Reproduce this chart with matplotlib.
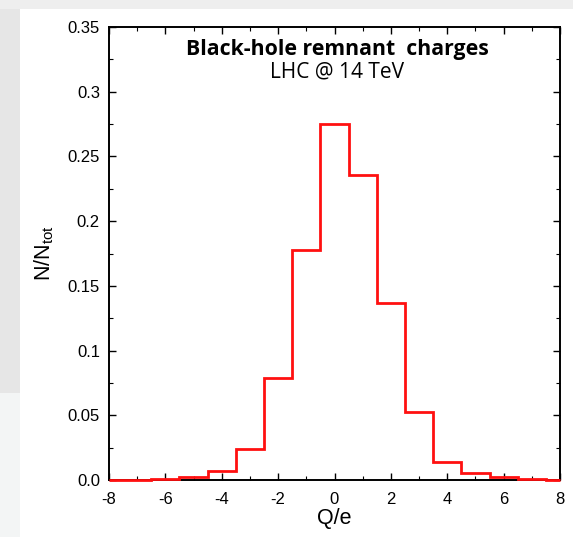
import matplotlib.pyplot as plt
from matplotlib.patches import Rectangle

charge = list(range(-8, 9))
frac = [0.0, 0.0003, 0.0005, 0.0026, 0.0072, 0.024, 0.079, 0.178, 0.275,
        0.236, 0.137, 0.0527, 0.014, 0.0054, 0.002, 0.0005, 0.0]
yticks = [0.0, 0.05, 0.1, 0.15, 0.2, 0.25, 0.3, 0.35]
ylabels = ['0.0', '0.05', '0.1', '0.15', '0.2', '0.25', '0.3', '0.35']
xticks = [-8, -6, -4, -2, 0, 2, 4, 6, 8]

plt.rcParams['font.family'] = ['Liberation Sans', 'DejaVu Sans']
plt.rcParams['axes.unicode_minus'] = False

W, H = 573, 537
fig = plt.figure(figsize=(W / 100, H / 100), dpi=100, facecolor='#eeeeee')

# page background pieces (screenshot look)
fig.patches.append(Rectangle((0, 0), 20 / W, (H - 393) / H, transform=fig.transFigure,
                             facecolor='#f3f5f5', edgecolor='none', zorder=-5))
fig.patches.append(Rectangle((0, (H - 393) / H), 20 / W, (393 - 9) / H, transform=fig.transFigure,
                             facecolor='#e6e6e6', edgecolor='none', zorder=-5))
fig.patches.append(Rectangle((20 / W, 0), 1 - 20 / W, (H - 9) / H, transform=fig.transFigure,
                             facecolor='white', edgecolor='none', zorder=-5))

ax = fig.add_axes([109 / W, (H - 480) / H, 451 / W, 453 / H])
ax.set_facecolor('white')

# bins of width 1 centred on each charge, cut at the axis ends
edges = [charge[0]] + [c + 0.5 for c in charge[:-1]] + [charge[-1]]
ax.stairs(frac, edges, color='#ff1010', lw=2.0, baseline=None, clip_on=False, zorder=3)

ax.set_xlim(-8, 8)
ax.set_ylim(0, 0.35)
ax.set_xticks(xticks)
ax.set_xticks(range(-8, 9), minor=True)
ax.set_yticks(yticks)
ax.set_yticklabels(ylabels)
ax.set_yticks([i * 0.025 for i in range(15)], minor=True)
ax.tick_params(which='both', direction='in', top=True, right=True, labelsize=12)
ax.tick_params(axis='x', which='both', pad=8.5)
ax.tick_params(axis='y', which='both', pad=6.5)
ax.tick_params(which='major', length=5, width=1)
ax.tick_params(which='minor', length=3, width=0.8)
for s in ax.spines.values():
    s.set_linewidth(1.4)

ax.set_xlabel('Q/e', fontsize=15.5, labelpad=1)
ax.set_ylabel(r'N/N$_{\mathregular{tot}}$', fontsize=15.5, labelpad=8)

ax.text(0.506, 0.951, 'Black-hole remnant  charges', transform=ax.transAxes,
        ha='center', va='center', fontsize=15.3, fontweight='bold', family='Open Sans')
ax.text(0.506, 0.900, 'LHC @ 14 TeV', transform=ax.transAxes,
        ha='center', va='center', fontsize=15, family='Open Sans')

fig.savefig('out.png', dpi=100, facecolor=fig.get_facecolor())
